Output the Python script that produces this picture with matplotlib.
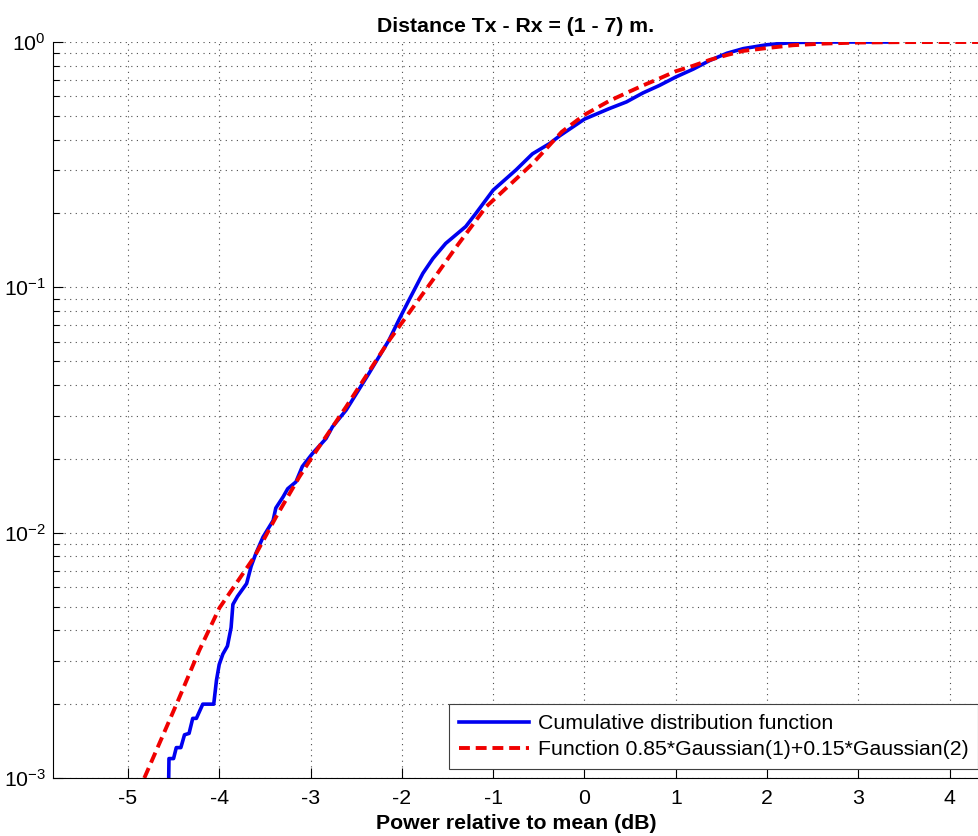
import matplotlib.pyplot as plt
from matplotlib.ticker import LogLocator, NullFormatter

plt.rcParams['font.family'] = ['Liberation Sans', 'DejaVu Sans']
plt.rcParams['mathtext.fontset'] = 'custom'
plt.rcParams['mathtext.rm'] = 'Liberation Sans'
plt.rcParams['mathtext.it'] = 'Liberation Sans:italic'
plt.rcParams['mathtext.bf'] = 'Liberation Sans:bold'

cdf_x = [-4.553, -4.55, -4.50, -4.47, -4.42, -4.38, -4.33, -4.29, -4.25, -4.18, -4.06,
         -4.03, -4.00, -3.96, -3.91, -3.87, -3.85, -3.80, -3.70, -3.65, -3.60, -3.52,
         -3.41, -3.38, -3.30, -3.25, -3.16, -3.09, -2.98, -2.83, -2.76, -2.61, -2.36,
         -2.14, -2.03, -1.92, -1.77, -1.66, -1.52, -1.30, -1.19, -1.00, -0.75, -0.57,
         -0.38, -0.27, 0.00, 0.27, 0.46, 0.64, 0.82, 1.00, 1.19, 1.37, 1.56, 1.74,
         2.00, 2.28, 2.60, 3.37]
cdf_y = [1.0e-3, 1.2e-3, 1.2e-3, 1.33e-3, 1.33e-3, 1.5e-3, 1.52e-3, 1.75e-3, 1.75e-3, 2.0e-3, 2.0e-3,
         2.5e-3, 2.9e-3, 3.2e-3, 3.45e-3, 4.1e-3, 5.1e-3, 5.5e-3, 6.2e-3, 7.3e-3, 8.2e-3, 9.6e-3,
         1.12e-2, 1.26e-2, 1.40e-2, 1.51e-2, 1.61e-2, 1.86e-2, 2.10e-2, 2.42e-2, 2.70e-2, 3.16e-2, 4.46e-2,
         6.1e-2, 7.4e-2, 8.9e-2, 0.114, 0.131, 0.151, 0.177, 0.200, 0.249, 0.301, 0.35,
         0.386, 0.415, 0.485, 0.535, 0.57, 0.62, 0.665, 0.72, 0.775, 0.84, 0.90, 0.94,
         0.975, 0.995, 1.0, 1.0]

# fitted mixture (red dashed)
fit_x = [-4.82, -4.455, -4.217, -3.998, -3.614, -3.377, -3.122, -2.98, -2.61, -2.136,
         -1.662, -1.405, -1.077, -0.566, -0.25, 0.0, 0.27, 0.46, 0.64, 0.82, 1.0,
         1.19, 1.37, 1.56, 1.74, 2.0, 2.28, 2.61, 3.0, 3.5, 4.32]
fit_y = [1.0e-3, 2.05e-3, 3.32e-3, 4.93e-3, 7.98e-3, 1.16e-2, 1.69e-2, 2.04e-2, 3.26e-2, 6.1e-2,
         0.107, 0.146, 0.213, 0.32, 0.43, 0.505, 0.575, 0.62, 0.665, 0.71, 0.76,
         0.80, 0.845, 0.885, 0.92, 0.945, 0.97, 0.985, 0.995, 0.999, 1.0]

xticks = [-5, -4, -3, -2, -1, 0, 1, 2, 3, 4]
fs = 15.3

fig = plt.figure(figsize=(9.79, 8.36), dpi=100)
ax = fig.add_axes([53/979, 1 - 778/836, 926/979, 736/836])

ax.semilogy(cdf_x, cdf_y, color='#0000f0', lw=2.6, label='Cumulative distribution function')
ax.semilogy(fit_x, fit_y, color='#f00000', lw=2.8, ls='--', dashes=(2.8, 1.5),
            label='Function 0.85*Gaussian(1)+0.15*Gaussian(2)')

ax.set_xlim(-5.82, 4.32)
ax.set_ylim(1e-3, 1)
ax.set_xticks(xticks)
ax.set_xticklabels([str(t) for t in xticks])
ax.yaxis.set_major_locator(LogLocator(base=10))
ax.yaxis.set_minor_locator(LogLocator(base=10, subs=range(2, 10)))
ax.yaxis.set_minor_formatter(NullFormatter())

ax.grid(True, which='major', ls=(0, (1, 4)), color='0.3', lw=0.8)
ax.yaxis.grid(True, which='minor', ls=(0, (1, 4)), color='0.3', lw=0.8)

ax.spines['top'].set_visible(False)
ax.spines['right'].set_visible(False)
ax.tick_params(which='both', direction='in', labelsize=fs, width=0.8)
ax.tick_params(which='major', length=7)
ax.tick_params(which='minor', length=4)
ax.tick_params(axis='x', pad=8)
ax.tick_params(axis='y', pad=5)

ax.set_title('Distance Tx - Rx = (1 - 7) m.', fontweight='bold', fontsize=fs, pad=7)
ax.set_xlabel('Power relative to mean (dB)', fontweight='bold', fontsize=fs, labelpad=4)

leg = ax.legend(loc='lower right', bbox_to_anchor=(978/979, 1 - 769/836),
                bbox_transform=fig.transFigure, borderaxespad=0, fontsize=fs,
                handlelength=3.3, handletextpad=0.4, labelspacing=0.35, borderpad=0.45,
                fancybox=False, framealpha=1)
leg.get_frame().set_edgecolor('0.25')
leg.get_frame().set_linewidth(0.8)

plt.savefig('out.png', dpi=100)
